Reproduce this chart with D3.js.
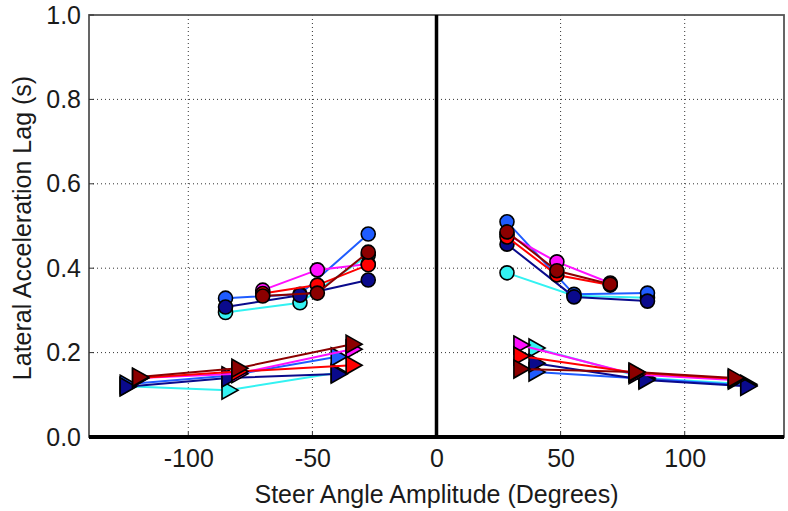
<!DOCTYPE html>
<html>
<head>
<meta charset="utf-8">
<script src="https://cdn.jsdelivr.net/npm/d3@7"></script>
<style>
  body { margin: 0; background: #fff; }
  text { font-family: Arial, "Liberation Sans", sans-serif; fill: #1a1a1a; }
</style>
</head>
<body>
<div id="chart"></div>
<script>
// series order = draw order
const seriesNames = ['cyan', 'blue', 'navy', 'magenta', 'red', 'darkred'];
const seriesColors = ['#33f2f2', '#1f5cff', '#0a0a8c', '#ff10ff', '#ff0000', '#8c0000'];

// circles (negative side), x = steer amplitude, y = lag
const circLeftX = [[-85, -55, -27.5], [-85, -55, -27.5], [-85, -55, -27.5],
                   [-70, -48, -27.5], [-70, -48, -27.5], [-70, -48, -27.5]];
const circLeftY = [[0.295, 0.318, 0.431], [0.329, 0.338, 0.481], [0.308, 0.336, 0.372],
                   [0.348, 0.396, 0.41], [0.340, 0.360, 0.408], [0.334, 0.341, 0.438]];
// circles (positive side)
const circRightX = [[28.4, 55.4, 85], [28.4, 55.4, 85], [28.4, 55.4, 85],
                    [28.4, 48.5, 70], [28.4, 48.5, 70], [28.4, 48.5, 70]];
const circRightY = [[0.389, 0.335, 0.330], [0.510, 0.338, 0.341], [0.457, 0.332, 0.322],
                    [0.480, 0.415, 0.365], [0.474, 0.384, 0.360], [0.486, 0.394, 0.362]];
// triangles (negative side)
const triLeftX = [[-125, -84, -40], [-125, -84, -40], [-125, -84, -40],
                  [-120, -80, -34], [-120, -80, -34], [-120, -80, -34]];
const triLeftY = [[0.120, 0.111, 0.152], [0.125, 0.145, 0.190], [0.119, 0.140, 0.149],
                  [0.140, 0.150, 0.208], [0.140, 0.155, 0.170], [0.142, 0.163, 0.220]];
// triangles (positive side)
const triRightX = [[39.7, 84, 125], [39.7, 84, 125], [39.7, 84, 125],
                   [33.6, 80, 120], [33.6, 80, 120], [33.6, 80, 120]];
const triRightY = [[0.211, 0.140, 0.125], [0.154, 0.138, 0.122], [0.175, 0.135, 0.120],
                   [0.218, 0.148, 0.135], [0.192, 0.152, 0.138], [0.161, 0.154, 0.140]];

const xTicks = [-100, -50, 0, 50, 100];
const yTicks = [0, 0.2, 0.4, 0.6, 0.8, 1.0];

const width = 788, height = 511;
const m = { left: 89, right: 784, top: 15, bottom: 437 };

const svg = d3.select('#chart').append('svg')
  .attr('width', width).attr('height', height);

const x = d3.scaleLinear().domain([-140, 140]).range([m.left, m.right]);
const y = d3.scaleLinear().domain([0, 1]).range([m.bottom, m.top]);

// grid
svg.append('g').selectAll('line')
  .data(xTicks.filter(d => d !== 0)).enter().append('line')
  .attr('x1', d => x(d)).attr('x2', d => x(d))
  .attr('y1', m.top).attr('y2', m.bottom)
  .attr('stroke', '#333').attr('stroke-width', 1).attr('stroke-dasharray', '1,3');
svg.append('g').selectAll('line')
  .data(yTicks.filter(d => d > 0 && d < 1)).enter().append('line')
  .attr('x1', m.left).attr('x2', m.right)
  .attr('y1', d => y(d)).attr('y2', d => y(d))
  .attr('stroke', '#333').attr('stroke-width', 1).attr('stroke-dasharray', '1,3');

// frame
svg.append('rect').attr('x', m.left).attr('y', m.top)
  .attr('width', m.right - m.left).attr('height', m.bottom - m.top)
  .attr('fill', 'none').attr('stroke', '#555').attr('stroke-width', 1.8);

// axes
const fmtX = d => String(d);          // plain hyphen like the source
const xAxis = d3.axisBottom(x).tickValues(xTicks).tickSize(0).tickPadding(12).tickFormat(fmtX);
const gx = svg.append('g').attr('transform', `translate(0,${m.bottom})`).call(xAxis);
gx.select('.domain').remove();
gx.selectAll('text').attr('font-size', 25).attr('fill', '#1a1a1a');

const yAxis = d3.axisLeft(y).tickValues(yTicks).tickSize(0).tickPadding(8).tickFormat(d3.format('.1f'));
const gy = svg.append('g').attr('transform', `translate(${m.left},0)`).call(yAxis);
gy.select('.domain').remove();
gy.selectAll('text').attr('font-size', 25).attr('fill', '#1a1a1a');

// small inward ticks
svg.append('g').selectAll('line').data(xTicks).enter().append('line')
  .attr('x1', d => x(d)).attr('x2', d => x(d))
  .attr('y1', m.bottom).attr('y2', m.bottom - 5)
  .attr('stroke', '#333');
svg.append('g').selectAll('line').data(yTicks).enter().append('line')
  .attr('x1', m.left).attr('x2', m.left + 5)
  .attr('y1', d => y(d)).attr('y2', d => y(d))
  .attr('stroke', '#333');

// thick zero lines
svg.append('line').attr('x1', x(0)).attr('x2', x(0)).attr('y1', m.top).attr('y2', m.bottom)
  .attr('stroke', '#000').attr('stroke-width', 3.5);
svg.append('line').attr('x1', m.left).attr('x2', m.right).attr('y1', y(0)).attr('y2', y(0))
  .attr('stroke', '#000').attr('stroke-width', 4);

// titles
svg.append('text').attr('x', x(0)).attr('y', 503)
  .attr('text-anchor', 'middle').attr('font-size', 25)
  .text('Steer Angle Amplitude (Degrees)');
svg.append('text').attr('transform', `translate(31,228) rotate(-90)`)
  .attr('text-anchor', 'middle').attr('font-size', 25)
  .text('Lateral Acceleration Lag (s)');

const line = d3.line().x(d => x(d[0])).y(d => y(d[1]));
const plotArea = svg.append('g');

function drawSet(xs, ys, marker) {
  seriesNames.forEach((name, i) => {
    const pts = xs[i].map((v, j) => [v, ys[i][j]]);
    const g = plotArea.append('g').attr('class', name);
    g.append('path').datum(pts).attr('d', line)
      .attr('fill', 'none').attr('stroke', seriesColors[i]).attr('stroke-width', 2);
    if (marker === 'circle') {
      g.selectAll('circle').data(pts).enter().append('circle')
        .attr('cx', d => x(d[0])).attr('cy', d => y(d[1])).attr('r', 7)
        .attr('fill', seriesColors[i]).attr('stroke', '#000').attr('stroke-width', 1.6);
    } else {
      g.selectAll('path.m').data(pts).enter().append('path').attr('class', 'm')
        .attr('d', 'M-6,-9L10,0L-6,9Z')
        .attr('transform', d => `translate(${x(d[0])},${y(d[1])})`)
        .attr('fill', seriesColors[i]).attr('stroke', '#000').attr('stroke-width', 1.6)
        .attr('stroke-linejoin', 'miter');
    }
  });
}

drawSet(triLeftX, triLeftY, 'tri');
drawSet(triRightX, triRightY, 'tri');
drawSet(circLeftX, circLeftY, 'circle');
drawSet(circRightX, circRightY, 'circle');
</script>
</body>
</html>
